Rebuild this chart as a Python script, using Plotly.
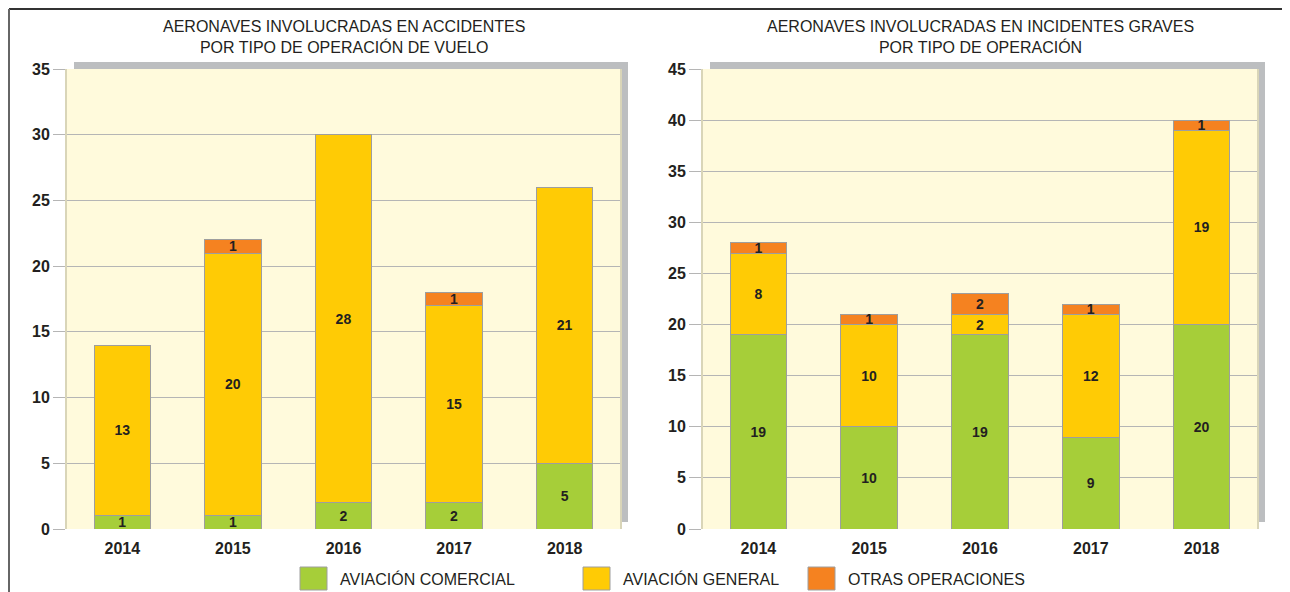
import plotly.graph_objects as go

W, H = 1290, 592

years = ["2014", "2015", "2016", "2017", "2018"]
series_names = ["AVIACIÓN COMERCIAL", "AVIACIÓN GENERAL", "OTRAS OPERACIONES"]
series_colors = ["#A6CE39", "#FFCB05", "#F58220"]

acc_comercial = [1, 1, 2, 2, 5]
acc_general = [13, 20, 28, 15, 21]
acc_otras = [0, 1, 0, 1, 0]

inc_comercial = [19, 10, 19, 9, 20]
inc_general = [8, 10, 2, 12, 19]
inc_otras = [1, 1, 2, 1, 1]

title_left = "AERONAVES INVOLUCRADAS EN ACCIDENTES<br>POR TIPO DE OPERACIÓN DE VUELO"
title_right = "AERONAVES INVOLUCRADAS EN INCIDENTES GRAVES<br>POR TIPO DE OPERACIÓN"

left_ticks = [0, 5, 10, 15, 20, 25, 30, 35]
right_ticks = [0, 5, 10, 15, 20, 25, 30, 35, 40, 45]

FONT = "Liberation Sans, Arial, sans-serif"
TXT = "#231F20"

OFF = 8  # page body offset in the browser


def px(x):
    return (x - OFF) / W


def py(y):
    return 1 - (y - OFF) / H


# plot rectangles in screen pixels
L = dict(x0=67, x1=620, y0=69, y1=529)
R = dict(x0=703, x1=1257, y0=69, y1=529)

fig = go.Figure()

for (xa, ya, data) in [
    ("x", "y", [acc_comercial, acc_general, acc_otras]),
    ("x2", "y2", [inc_comercial, inc_general, inc_otras]),
]:
    for name, color, vals in zip(series_names, series_colors, data):
        fig.add_trace(go.Bar(
            x=years, y=vals, name=name, xaxis=xa, yaxis=ya,
            marker=dict(color=color, line=dict(color="#9E9E9E", width=1)),
            text=[str(v) if v else "" for v in vals],
            textposition="inside", insidetextanchor="middle",
            constraintext="none", textangle=0,
            textfont=dict(family=FONT, size=14, color=TXT, weight="bold"),
            showlegend=False, hoverinfo="skip",
        ))

axis_common = dict(
    showgrid=True, gridcolor="#B5B5B5", gridwidth=1,
    ticks="outside", ticklen=12, tickcolor="#B5B5B5", tickwidth=1,
    showline=True, linecolor="#D9D5B8", linewidth=2, mirror=True,
    tickfont=dict(family=FONT, size=16, color=TXT, weight="bold"),
    zeroline=False, fixedrange=True, automargin=False,
)

xaxis_common = dict(
    showgrid=False, ticks="", showline=False,
    tickfont=dict(family=FONT, size=16, color=TXT, weight="bold"),
    ticklabelstandoff=8,
    fixedrange=True, automargin=False,
)

fig.update_layout(
    template="none",
    width=W, height=H,
    margin=dict(l=0, r=0, t=0, b=0, pad=0),
    paper_bgcolor="white",
    plot_bgcolor="rgba(0,0,0,0)",
    barmode="stack", bargap=0.49,
    showlegend=False,
    xaxis=dict(domain=[px(L["x0"]), px(L["x1"])], anchor="y", **xaxis_common),
    yaxis=dict(domain=[py(L["y1"]), py(L["y0"])], anchor="x", range=[0, 35],
               tickvals=left_ticks, **axis_common),
    xaxis2=dict(domain=[px(R["x0"]), px(R["x1"])], anchor="y2", **xaxis_common),
    yaxis2=dict(domain=[py(R["y1"]), py(R["y0"])], anchor="x2", range=[0, 45],
                tickvals=right_ticks, **axis_common),
    font=dict(family=FONT, color=TXT),
)

shapes = []
for r in (L, R):
    # shadow
    shapes.append(dict(type="rect", xref="paper", yref="paper", layer="below",
                       x0=px(r["x0"] + 7), x1=px(r["x1"] + 8),
                       y0=py(r["y1"] - 7), y1=py(r["y0"] - 7),
                       fillcolor="#BCBEC0", line=dict(width=0)))
    # cream plot background
    shapes.append(dict(type="rect", xref="paper", yref="paper", layer="below",
                       x0=px(r["x0"]), x1=px(r["x1"]),
                       y0=py(r["y1"]), y1=py(r["y0"]),
                       fillcolor="#FFFADC", line=dict(width=0)))

# outer frame (as close to the page edge as the figure allows)
shapes.append(dict(type="line", xref="paper", yref="paper", x0=px(9), x1=px(1290), y0=py(9), y1=py(9),
                   line=dict(color="#333333", width=2)))
shapes.append(dict(type="line", xref="paper", yref="paper", x0=px(9), x1=px(9), y0=py(9), y1=py(600),
                   line=dict(color="#666666", width=2)))
shapes.append(dict(type="line", xref="paper", yref="paper", x0=px(1289), x1=px(1289), y0=py(9), y1=py(600),
                   line=dict(color="#DDDDDD", width=1)))

annotations = [
    dict(text=title_left, xref="paper", yref="paper", x=px((L["x0"] + L["x1"]) / 2), y=py(37),
         showarrow=False, xanchor="center", yanchor="middle",
         font=dict(family=FONT, size=16, color=TXT)),
    dict(text=title_right, xref="paper", yref="paper", x=px((R["x0"] + R["x1"]) / 2), y=py(37),
         showarrow=False, xanchor="center", yanchor="middle",
         font=dict(family=FONT, size=16, color=TXT)),
]

# custom legend
legend_x = [300, 583, 808]
for name, color, lx in zip(series_names, series_colors, legend_x):
    shapes.append(dict(type="rect", xref="paper", yref="paper",
                       x0=px(lx), x1=px(lx + 27), y0=py(590), y1=py(567),
                       fillcolor=color, line=dict(color="#9E9E9E", width=1)))
    annotations.append(dict(text=name, xref="paper", yref="paper", x=px(lx + 38), y=py(579),
                            showarrow=False, xanchor="left", yanchor="middle",
                            font=dict(family=FONT, size=16, color=TXT)))

fig.update_layout(shapes=shapes, annotations=annotations)

fig.write_html("out.html")
